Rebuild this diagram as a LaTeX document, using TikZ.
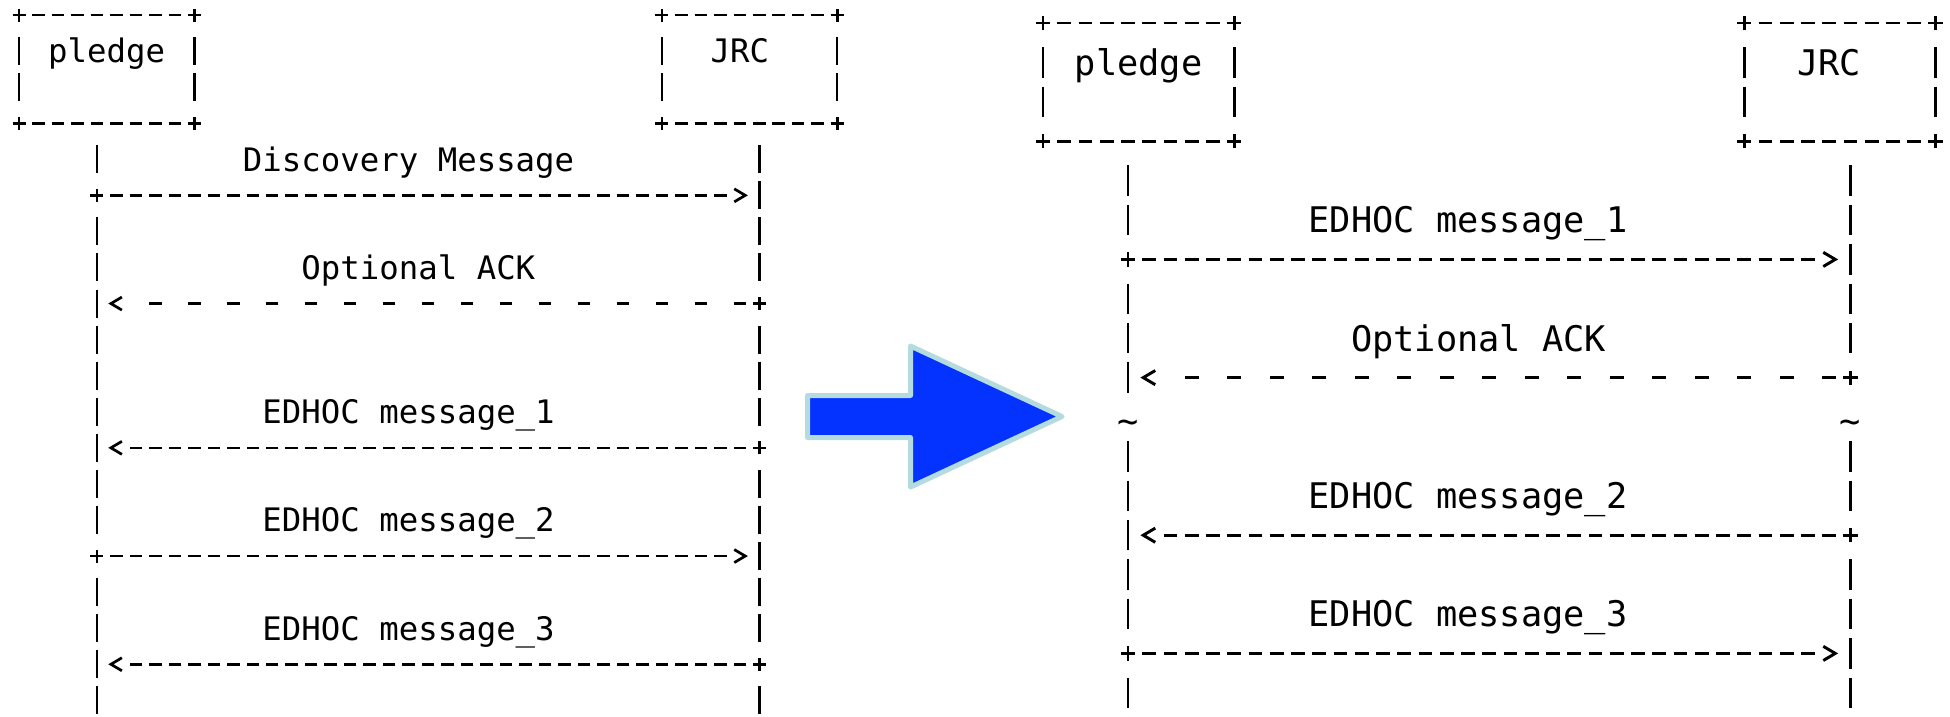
\documentclass[tikz,border=0pt]{standalone}
\usepackage{fontspec}
\newfontfamily\asciifont{DejaVu Sans Mono}
\usetikzlibrary{calc}
\definecolor{arrowblue}{RGB}{4,50,255}
\definecolor{arrowedge}{RGB}{180,220,224}
\newcommand\gridparams[3]{%
 \pgfmathsetmacro\myCW{#1}%
 \pgfmathsetmacro\myRH{#2}%
 \pgfmathsetmacro\myDL{12.5*#3}%
 \pgfmathsetmacro\myVL{28*#3}%
 \pgfmathsetmacro\myLW{2.7*#3}%
 \pgfmathsetmacro\myVW{2.5*#3}%
 \pgfmathsetmacro\myPS{6.5*#3}%
 \pgfmathsetmacro\myAW{5.5*#3}%
 \pgfmathsetmacro\myAH{6.5*#3}%
 \pgfmathsetmacro\myTH{30.5*#3}%
 \pgfmathsetmacro\myHOff{\myCW-\myDL}%
 \pgfmathsetmacro\myHPh{\myCW/2+\myDL/2}%
 \pgfmathsetmacro\myHSOff{2*\myCW-\myDL}%
 \pgfmathsetmacro\myHSPh{1.5*\myCW+\myDL/2}%
 \pgfmathsetmacro\myVOff{\myRH-\myVL}%
 \pgfmathsetmacro\myVPh{\myRH/2+\myVL/2}%
 \pgfmathsetmacro\myFSz{\myCW/0.602}%
 \pgfmathsetmacro\myCH{0.3645*\myFSz}%
}
\newcommand\myFS{\fontsize{\myFSz}{\myFSz}\selectfont}
\tikzset{
  hd/.style={line width=\myLW pt, dash pattern=on \myDL pt off \myHOff pt, dash phase=\myHPh pt},
  hds/.style={line width=\myLW pt, dash pattern=on \myDL pt off \myHSOff pt, dash phase=\myHSPh pt},
  vd/.style={line width=\myVW pt, dash pattern=on \myVL pt off \myVOff pt, dash phase=\myVPh pt},
  cell/.style={minimum width=\myCW pt, minimum height=\myRH pt, inner sep=0pt, outer sep=0pt},
  plusnode/.style={cell, fill=white, path picture={
     \draw[line width=\myLW pt]
       ([xshift=-\myPS pt]path picture bounding box.center) -- ([xshift=\myPS pt]path picture bounding box.center)
       ([yshift=-\myPS pt]path picture bounding box.center) -- ([yshift=\myPS pt]path picture bounding box.center);}},
  gtnode/.style={cell, path picture={
     \draw[line width=\myLW pt]
       ([xshift=-\myAW pt, yshift=\myAH pt]path picture bounding box.center) --
       ([xshift=\myAW pt]path picture bounding box.center) --
       ([xshift=-\myAW pt, yshift=-\myAH pt]path picture bounding box.center);}},
  ltnode/.style={cell, path picture={
     \draw[line width=\myLW pt]
       ([xshift=\myAW pt, yshift=\myAH pt]path picture bounding box.center) --
       ([xshift=-\myAW pt]path picture bounding box.center) --
       ([xshift=\myAW pt, yshift=-\myAH pt]path picture bounding box.center);}},
  tildenode/.style={cell, fill=white, font=\asciifont\myFS, text height=\myTH pt, text depth=0pt},
  lbl/.style={inner sep=0pt, outer sep=0pt, anchor=base, yshift=-\myCH pt, font=\asciifont\myFS}
}
\begin{document}
\begin{tikzpicture}[x=1pt,y=-1pt]
\useasboundingbox (0,0) rectangle (1950,716);
\fill[white] (0,0) rectangle (1950,716);

% ---------------- left diagram ----------------
\begin{scope}[shift={(19,15)}, x=19.48pt, y=-36.07pt]
\gridparams{19.48}{36.07}{1}
\coordinate (LpTop) at (4,3.5);  \coordinate (LpBot) at (4,19.6);
\coordinate (LjTop) at (38,3.5); \coordinate (LjBot) at (38,19.6);
\draw[vd] (LpTop) -- (LpBot);
\draw[vd] (LjTop) -- (LjBot);
% pledge box
\node[plusnode] (LpA) at (0,0) {}; \node[plusnode] (LpB) at (9,0) {};
\node[plusnode] (LpC) at (0,3) {}; \node[plusnode] (LpD) at (9,3) {};
\draw[hd] (LpA) -- (LpB); \draw[hd] (LpC) -- (LpD);
\draw[vd] (LpA) -- (LpC); \draw[vd] (LpB) -- (LpD);
\node[lbl] (Lpledge) at (4.5,1) {pledge};
% JRC box
\node[plusnode] (LjA) at (33,0) {}; \node[plusnode] (LjB) at (42,0) {};
\node[plusnode] (LjC) at (33,3) {}; \node[plusnode] (LjD) at (42,3) {};
\draw[hd] (LjA) -- (LjB); \draw[hd] (LjC) -- (LjD);
\draw[vd] (LjA) -- (LjC); \draw[vd] (LjB) -- (LjD);
\node[lbl] (Ljrc) at (37,1) {JRC};
% messages
\node[lbl] (Lt1) at (20,4) {Discovery Message};
\node[plusnode] (Ls1) at (4,5) {}; \node[gtnode] (Le1) at (37,5) {};
\draw[hd] (Ls1) -- (Le1);
\node[lbl] (Lt2) at (20.5,7) {Optional ACK};
\node[plusnode] (Ls2) at (38,8) {}; \node[ltnode] (Le2) at (5,8) {};
\draw[hds] (Ls2) -- (Le2);
\node[lbl] (Lt3) at (20,11) {EDHOC message\_1};
\node[plusnode] (Ls3) at (38,12) {}; \node[ltnode] (Le3) at (5,12) {};
\draw[hd] (Ls3) -- (Le3);
\node[lbl] (Lt4) at (20,14) {EDHOC message\_2};
\node[plusnode] (Ls4) at (4,15) {}; \node[gtnode] (Le4) at (37,15) {};
\draw[hd] (Ls4) -- (Le4);
\node[lbl] (Lt5) at (20,17) {EDHOC message\_3};
\node[plusnode] (Ls5) at (38,18) {}; \node[ltnode] (Le5) at (5,18) {};
\draw[hd] (Ls5) -- (Le5);
\end{scope}

% ---------------- big arrow ----------------
\draw[line width=5pt, draw=arrowedge, fill=arrowblue, line join=round]
  (807.5,395.5) -- (910.5,395.5) -- (910.5,346) -- (1062,416.5)
  -- (910.5,487) -- (910.5,437.5) -- (807.5,437.5) -- cycle;

% ---------------- right diagram ----------------
\begin{scope}[shift={(1043,23)}, x=21.25pt, y=-39.4pt]
\gridparams{21.25}{39.4}{1.091}
\coordinate (RpTop) at (4,3.5);  \coordinate (RpBot) at (4,17.9);
\coordinate (RjTop) at (38,3.5); \coordinate (RjBot) at (38,17.9);
\draw[vd] (RpTop) -- (RpBot);
\draw[vd] (RjTop) -- (RjBot);
% pledge box
\node[plusnode] (RpA) at (0,0) {}; \node[plusnode] (RpB) at (9,0) {};
\node[plusnode] (RpC) at (0,3) {}; \node[plusnode] (RpD) at (9,3) {};
\draw[hd] (RpA) -- (RpB); \draw[hd] (RpC) -- (RpD);
\draw[vd] (RpA) -- (RpC); \draw[vd] (RpB) -- (RpD);
\node[lbl] (Rpledge) at (4.5,1) {pledge};
% JRC box
\node[plusnode] (RjA) at (33,0) {}; \node[plusnode] (RjB) at (42,0) {};
\node[plusnode] (RjC) at (33,3) {}; \node[plusnode] (RjD) at (42,3) {};
\draw[hd] (RjA) -- (RjB); \draw[hd] (RjC) -- (RjD);
\draw[vd] (RjA) -- (RjC); \draw[vd] (RjB) -- (RjD);
\node[lbl] (Rjrc) at (37,1) {JRC};
% messages
\node[lbl] (Rt1) at (20,5) {EDHOC message\_1};
\node[plusnode] (Rs1) at (4,6) {}; \node[gtnode] (Re1) at (37,6) {};
\draw[hd] (Rs1) -- (Re1);
\node[lbl] (Rt2) at (20.5,8) {Optional ACK};
\node[plusnode] (Rs2) at (38,9) {}; \node[ltnode] (Re2) at (5,9) {};
\draw[hds] (Rs2) -- (Re2);
\node[tildenode] (Rtl) at (4,10) {\textasciitilde};
\node[tildenode] (Rtr) at (38,10) {\textasciitilde};
\node[lbl] (Rt3) at (20,12) {EDHOC message\_2};
\node[plusnode] (Rs3) at (38,13) {}; \node[ltnode] (Re3) at (5,13) {};
\draw[hd] (Rs3) -- (Re3);
\node[lbl] (Rt4) at (20,15) {EDHOC message\_3};
\node[plusnode] (Rs4) at (4,16) {}; \node[gtnode] (Re4) at (37,16) {};
\draw[hd] (Rs4) -- (Re4);
\end{scope}
\end{tikzpicture}
\end{document}
